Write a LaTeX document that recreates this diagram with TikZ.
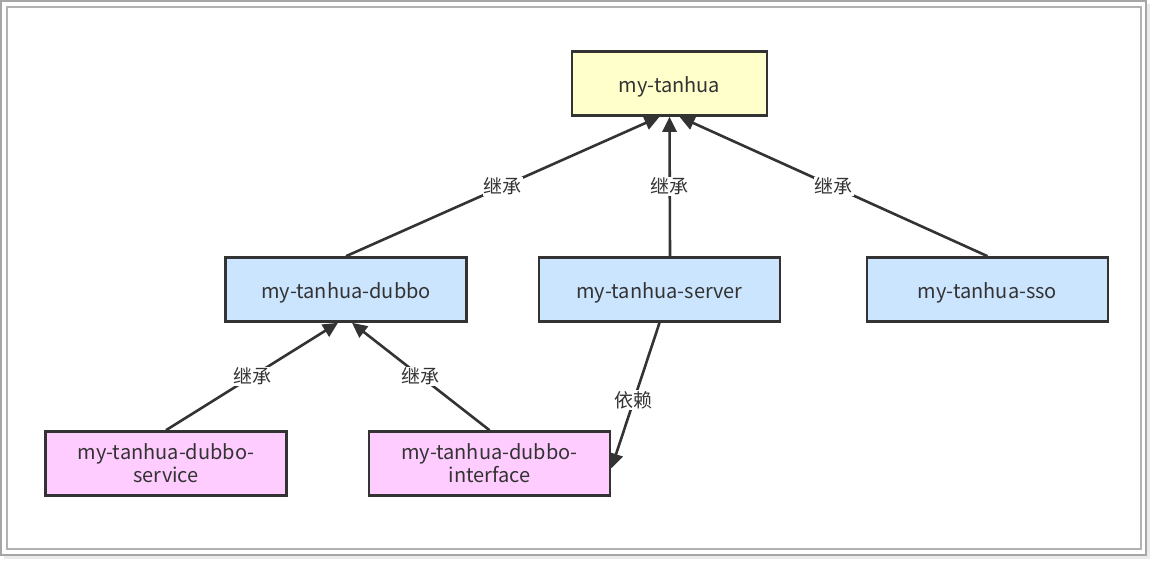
\documentclass[tikz,border=0pt]{standalone}
\usepackage{fontspec}
\setmainfont{Noto Sans CJK SC}
\usetikzlibrary{arrows.meta}
\definecolor{linec}{HTML}{333333}
\definecolor{yel}{HTML}{FFFFCC}
\definecolor{blu}{HTML}{CCE5FF}
\definecolor{pnk}{HTML}{FFCCFF}
\begin{document}
\begin{tikzpicture}[x=1pt,y=-1pt,
  box/.style={draw=linec,line width=2.6pt,minimum width=241pt,minimum height=64pt,inner sep=0pt,align=center,font=\fontsize{20}{23}\selectfont,text=linec},
  one/.style={text height=18pt,text depth=0pt},
  conn/.style={draw=linec,line width=2.6pt,-{Triangle[length=15pt,width=14pt]}},
  lab/.style={fill=white,inner sep=1pt,font=\fontsize{19}{21}\selectfont,text=linec}]
\useasboundingbox (0,0) rectangle (1154,562);
% frame
\fill[black!8] (4,4) rectangle (1150,559);
\draw[black!35,line width=1.5pt,fill=white] (1,1) rectangle (1146,555);
\draw[black!30,line width=1.5pt] (7,7) rectangle (1141,549);
% nodes
\node[box,one,fill=yel,minimum width=195pt] (root) at (669.5,83.5) {my-tanhua};
\node[box,one,fill=blu] (dubbo) at (346,289.5) {my-tanhua-dubbo};
\node[box,one,fill=blu] (server) at (659.5,289.5) {my-tanhua-server};
\node[box,one,fill=blu] (sso) at (987.5,289.5) {my-tanhua-sso};
\node[box,fill=pnk] (svc) at (166,463.5) {my-tanhua-dubbo-\\service};
\node[box,fill=pnk] (itf) at (489.5,463.5) {my-tanhua-dubbo-\\interface};
% connectors
\draw[conn] (dubbo.north) -- node[lab,pos=0.5]{继承} ([xshift=-10pt]root.south);
\draw[conn] ([xshift=10.5pt]server.north) -- node[lab,pos=0.5]{继承} (root.south);
\draw[conn] (sso.north) -- node[lab,pos=0.5]{继承} ([xshift=10pt]root.south);
\draw[conn] (svc.north) -- node[lab,pos=0.5]{继承} ([xshift=-8pt]dubbo.south);
\draw[conn] (itf.north) -- node[lab,pos=0.5]{继承} ([xshift=6pt]dubbo.south);
\draw[conn] (server.south) -- node[lab,pos=0.53]{依赖} ([yshift=-5pt]itf.east);
\end{tikzpicture}
\end{document}
